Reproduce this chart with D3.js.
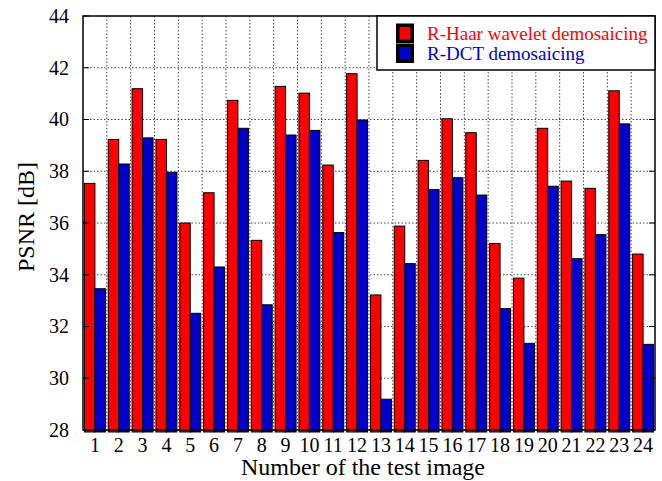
<!DOCTYPE html>
<html><head><meta charset="utf-8">
<script src="https://cdn.jsdelivr.net/npm/d3@7"></script>
<style>body{margin:0;background:#fff}svg{display:block}text{font-family:"Liberation Serif","Times New Roman",serif}</style>
</head><body>
<svg id="c" width="662" height="481"></svg>
<script>
const categories = ["1","2","3","4","5","6","7","8","9","10","11","12","13","14","15","16","17","18","19","20","21","22","23","24"];
const haar = [37.53,39.23,41.19,39.23,36.00,37.17,40.74,35.33,41.28,41.02,38.24,41.77,33.22,35.88,38.42,40.03,39.49,35.21,33.87,39.66,37.62,37.34,41.11,34.80];
const dct  = [33.46,38.28,39.29,37.96,32.51,34.30,39.66,32.84,39.40,39.58,35.63,39.98,29.19,34.43,37.29,37.75,37.08,32.69,31.35,37.42,34.62,35.55,39.83,31.31];
const seriesNames = ["R-Haar wavelet demosaicing","R-DCT demosaicing"];
const colors = ["#ff0000","#0000cc"];
const yTicks = [28,30,32,34,36,38,40,42,44];

const svg = d3.select("#c");
const L=83, R=655, T=16, B=430;
const x = d3.scaleBand().domain(categories).range([L,R]).paddingInner(0.12).paddingOuter(0.06);
const xs = d3.scaleBand().domain([0,1]).range([0,x.bandwidth()]);
const y = d3.scaleLinear().domain([28,44]).range([B,T]);
const step = x.step();

// grid
const g = svg.append("g");
g.selectAll("line.h").data(yTicks.slice(1,-1)).join("line")
  .attr("x1",L).attr("x2",R).attr("y1",d=>y(d)).attr("y2",d=>y(d))
  .attr("stroke","#444").attr("stroke-width",1).attr("stroke-dasharray","1.5,2");
g.selectAll("line.v").data(categories.slice(1)).join("line")
  .attr("x1",d=>x(d)-step*x.paddingInner()/2).attr("x2",d=>x(d)-step*x.paddingInner()/2)
  .attr("y1",T).attr("y2",B).attr("stroke","#444").attr("stroke-width",1).attr("stroke-dasharray","1.5,2");

// bars
const data = categories.map((c,i)=>({c, v:[haar[i],dct[i]]}));
const grp = svg.append("g").selectAll("g").data(data).join("g").attr("transform",d=>`translate(${x(d.c)},0)`);
grp.selectAll("rect").data(d=>d.v.map((v,k)=>({v,k}))).join("rect")
  .attr("x",d=>xs(d.k)).attr("width",xs.bandwidth())
  .attr("y",d=>y(d.v)).attr("height",d=>y(28)-y(d.v)+2)
  .attr("fill",d=>colors[d.k]).attr("stroke","#000").attr("stroke-width",1);

// frame
svg.append("rect").attr("x",L).attr("y",T).attr("width",R-L).attr("height",B-T)
  .attr("fill","none").attr("stroke","#000").attr("stroke-width",1.5);

// y ticks
const yAxis = svg.append("g");
yAxis.selectAll("line.l").data(yTicks).join("line")
  .attr("x1",L).attr("x2",L+6).attr("y1",d=>y(d)).attr("y2",d=>y(d)).attr("stroke","#000");
yAxis.selectAll("line.r").data(yTicks).join("line")
  .attr("x1",R-6).attr("x2",R).attr("y1",d=>y(d)).attr("y2",d=>y(d)).attr("stroke","#000");
yAxis.selectAll("text").data(yTicks).join("text")
  .attr("x",69).attr("y",d=>y(d)).attr("dy","0.34em").attr("text-anchor","end")
  .attr("font-size",20).text(d=>d);

// x labels
svg.append("g").selectAll("text").data(categories).join("text")
  .attr("x",d=>x(d)+x.bandwidth()/2).attr("y",451.5).attr("text-anchor","middle")
  .attr("font-size",20).text(d=>d);

// axis titles
svg.append("text").attr("x",363).attr("y",475).attr("text-anchor","middle").attr("font-size",24)
  .text("Number of the test image");
svg.append("text").attr("transform","translate(34,217) rotate(-90)").attr("text-anchor","middle")
  .attr("font-size",24).text("PSNR [dB]");

// legend
const lg = svg.append("g");
lg.append("rect").attr("x",377).attr("y",T).attr("width",R-377).attr("height",54)
  .attr("fill","#fff").attr("stroke","#000").attr("stroke-width",1.5);
seriesNames.forEach((n,k)=>{
  const yy = 23.5 + k*20;
  lg.append("rect").attr("x",396).attr("y",yy).attr("width",18).attr("height",19.5).attr("fill","#000");
  lg.append("rect").attr("x",399.5).attr("y",yy+3.5).attr("width",11).attr("height",12.5).attr("fill",colors[k]);
  lg.append("text").attr("x",427).attr("y",40+k*20).attr("font-size",19).attr("fill",colors[k]).text(n);
});
</script>
</body></html>
